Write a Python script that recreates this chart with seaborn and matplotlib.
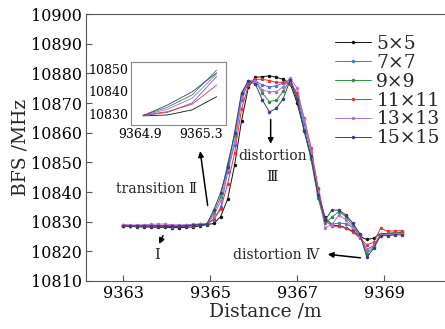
import numpy as np
import pandas as pd
import matplotlib
matplotlib.use("Agg")
import matplotlib.pyplot as plt
import seaborn as sns

# --- data ------------------------------------------------------------
distance = [round(9363 + 0.16 * i, 2) for i in range(41)]

bfs_5 = [10828.6, 10828.4, 10828.3, 10828.2, 10828.2, 10828.1, 10828.1, 10828.0, 10828.0, 10828.1,
         10828.2, 10828.6, 10829.0, 10829.4, 10831.7, 10837.6, 10849.0, 10864.0, 10875.5, 10878.7,
         10878.9, 10879.2, 10878.7, 10878.0, 10876.5, 10870.0, 10861.0, 10851.5, 10839.5, 10831.5,
         10828.8, 10828.6, 10828.0, 10826.8, 10825.0, 10824.0, 10824.4, 10826.0, 10826.0, 10826.2,
         10826.3]
bfs_7 = [10828.8, 10828.6, 10828.6, 10828.5, 10828.5, 10828.4, 10828.4, 10828.3, 10828.4, 10828.5,
         10828.6, 10828.9, 10829.1, 10830.6, 10834.8, 10846.6, 10856.0, 10871.0, 10877.0, 10877.4,
         10876.1, 10875.5, 10875.8, 10876.8, 10878.0, 10872.5, 10863.0, 10853.5, 10841.0, 10831.0,
         10829.2, 10829.5, 10829.3, 10828.0, 10825.5, 10820.5, 10822.0, 10825.8, 10825.8, 10825.8,
         10826.0]
bfs_9 = [10828.7, 10828.6, 10828.5, 10828.5, 10828.4, 10828.6, 10828.7, 10828.5, 10828.6, 10828.8,
         10828.9, 10829.1, 10829.2, 10832.9, 10838.4, 10849.5, 10859.0, 10873.0, 10877.5, 10877.5,
         10873.3, 10870.5, 10871.0, 10874.0, 10878.0, 10872.0, 10861.0, 10851.0, 10838.0, 10829.5,
         10831.5, 10833.4, 10831.7, 10828.7, 10825.5, 10819.2, 10821.5, 10825.5, 10826.0, 10826.3,
         10826.5]
bfs_11 = [10828.9, 10828.7, 10828.6, 10828.6, 10828.5, 10828.5, 10828.5, 10828.4, 10828.5, 10828.6,
          10828.7, 10829.2, 10829.3, 10830.9, 10834.2, 10842.8, 10853.0, 10868.0, 10876.0, 10878.0,
          10878.0, 10877.6, 10877.0, 10877.0, 10876.5, 10873.5, 10865.0, 10855.0, 10841.5, 10830.5,
          10828.5, 10828.4, 10827.8, 10826.5, 10824.5, 10822.2, 10823.0, 10827.8, 10826.8, 10826.9,
          10827.0]
bfs_13 = [10829.0, 10828.9, 10828.9, 10829.0, 10829.1, 10829.2, 10829.2, 10829.0, 10828.9, 10829.0,
          10829.1, 10829.3, 10829.2, 10832.0, 10836.9, 10847.8, 10857.0, 10872.0, 10877.5, 10877.6,
          10874.4, 10873.8, 10873.9, 10875.5, 10878.4, 10875.0, 10864.5, 10854.0, 10840.0, 10828.0,
          10829.0, 10832.3, 10830.6, 10828.0, 10825.0, 10820.8, 10821.5, 10825.5, 10825.5, 10825.8,
          10826.0]
bfs_15 = [10828.6, 10828.5, 10828.6, 10828.5, 10828.6, 10828.7, 10828.6, 10828.5, 10828.5, 10828.6,
          10828.8, 10829.0, 10829.1, 10833.9, 10839.8, 10848.3, 10860.0, 10873.5, 10877.5, 10876.4,
          10871.0, 10867.0, 10868.2, 10871.5, 10877.8, 10871.0, 10860.5, 10852.0, 10839.0, 10830.5,
          10833.9, 10833.9, 10832.3, 10829.5, 10826.0, 10818.0, 10821.0, 10825.3, 10825.3, 10825.5,
          10825.6]

windows = ["5×5", "7×7", "9×9", "11×11", "13×13", "15×15"]
series = [bfs_5, bfs_7, bfs_9, bfs_11, bfs_13, bfs_15]
colors = ["#111111", "#4a6fe3", "#2f8f3f", "#e8322e", "#b070d0", "#3b3b80"]

df = pd.concat([pd.DataFrame({"Distance": distance, "BFS": s, "Window": w})
                for w, s in zip(windows, series)], ignore_index=True)
palette = dict(zip(windows, colors))

# --- plot ------------------------------------------------------------
sns.set_style("ticks")
plt.rcParams["font.family"] = ["DejaVu Serif", "Noto Sans CJK SC"]
plt.rcParams["axes.edgecolor"] = "#555555"
plt.rcParams["xtick.color"] = "#555555"
plt.rcParams["ytick.color"] = "#555555"
plt.rcParams["xtick.labelcolor"] = "black"
plt.rcParams["ytick.labelcolor"] = "black"

fig = plt.figure(figsize=(4.45, 3.29), dpi=100)
ax = fig.add_axes([0.193, 0.146, 0.807, 0.811])

sns.lineplot(data=df, x="Distance", y="BFS", hue="Window", palette=palette,
             marker="o", markersize=2.5, markeredgewidth=0, linewidth=0.7, ax=ax)

ax.set_xlim(9362.14, 9370.4)
ax.set_ylim(10810, 10900)
ax.set_xticks([9363, 9365, 9367, 9369])
ax.set_yticks(range(10810, 10901, 10))
ax.tick_params(direction="in", length=4, labelsize=11.5, pad=3)
ax.spines["right"].set_visible(False)
ax.set_xlabel("Distance /m", fontsize=13.5, labelpad=0)
ax.set_ylabel("BFS /MHz", fontsize=13.5, labelpad=1)

leg = ax.legend(loc="upper right", bbox_to_anchor=(1.017, 0.965), frameon=False,
                fontsize=13.5, handlelength=1.9, handletextpad=0.3,
                labelspacing=0.05, borderaxespad=0.2)

# annotations
arr = dict(arrowstyle="-|>", color="black", lw=1.1, mutation_scale=8)
ax.annotate("", xy=(9364.76, 10854.7), xytext=(9364.95, 10834.5), arrowprops=arr)
ax.text(9363.77, 10840.9, "transition Ⅱ", fontsize=10, ha="center", va="center")
ax.annotate("", xy=(9363.8, 10821.6), xytext=(9363.94, 10826.1), arrowprops=arr)
ax.text(9363.78, 10818.8, "Ⅰ", fontsize=10.5, ha="center", va="center")
ax.annotate("", xy=(9366.39, 10855.3), xytext=(9366.39, 10865.4), arrowprops=arr)
ax.text(9366.43, 10852.1, "distortion", fontsize=10, ha="center", va="center")
ax.text(9366.43, 10845.2, "Ⅲ", fontsize=10.5, ha="center", va="center")
ax.annotate("", xy=(9367.64, 10819.1), xytext=(9368.52, 10817.7), arrowprops=arr)
ax.text(9366.51, 10818.8, "distortion Ⅳ", fontsize=10, ha="center", va="center")

# inset of the transition zone
ins = fig.add_axes([0.294, 0.620, 0.2135, 0.1906])
sub = df[(df["Distance"] > 9364.85) & (df["Distance"] < 9365.45)]
sns.lineplot(data=sub, x="Distance", y="BFS", hue="Window", palette=palette,
             linewidth=0.6, legend=False, ax=ins)
ins.set_xlim(9364.84, 9365.46)
ins.set_ylim(10824.9, 10853.0)
ins.set_xticks([9364.9, 9365.3])
ins.set_xticklabels(["9364.9", "9365.3"])
ins.set_yticks([10830, 10840, 10850])
ins.tick_params(length=0, labelsize=9, pad=2)
ins.set_xlabel("")
ins.set_ylabel("")
for sp in ins.spines.values():
    sp.set_color("#888888")
    sp.set_linewidth(0.8)

fig.savefig("out.png", dpi=100)
